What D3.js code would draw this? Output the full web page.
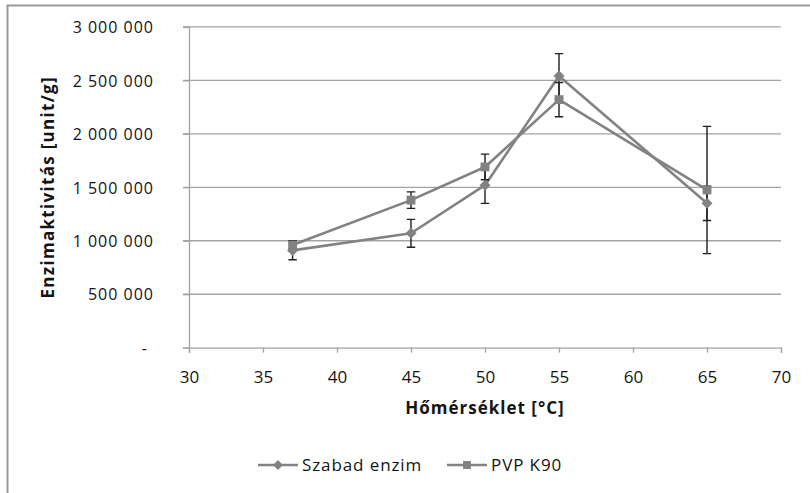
<!DOCTYPE html>
<html>
<head>
<meta charset="utf-8">
<script src="https://cdn.jsdelivr.net/npm/d3@7"></script>
<style>
  body { margin: 0; background: #fff; }
  svg { display: block; }
  text { font-family: "Open Sans", sans-serif; fill: #141414; }
</style>
</head>
<body>
<svg id="chart" width="810" height="493"></svg>
<script>
// Enzyme activity vs. temperature
const temperatures = [37, 45, 50, 55, 65];
const szabadEnzim = [910000, 1070000, 1520000, 2540000, 1350000];
const szabadEnzimErr = [87000, 130000, 170000, 210000, 160000];
const pvpK90 = [960000, 1380000, 1690000, 2320000, 1475000];
const pvpK90Err = [40000, 77000, 120000, 160000, 595000];
const seriesNames = ["Szabad enzim", "PVP K90"];

const xTicks = [30, 35, 40, 45, 50, 55, 60, 65, 70];
const yTicks = [0, 500000, 1000000, 1500000, 2000000, 2500000, 3000000];
const yTickLabels = ["-", "500 000", "1 000 000", "1 500 000", "2 000 000", "2 500 000", "3 000 000"];
const xTitle = "Hőmérséklet [°C]";
const yTitle = "Enzimaktivitás [unit/g]";

const svg = d3.select("#chart");
const W = 810, H = 493;
const plot = { left: 189, right: 781, top: 26.9, bottom: 347.7 };

const x = d3.scaleLinear().domain([30, 70]).range([plot.left, plot.right]);
const y = d3.scaleLinear().domain([0, 3000000]).range([plot.bottom, plot.top]);

const gridColor = "#a3a3a3";
const seriesColor = "#828282";

// outer frame (left and top edges)
svg.append("path")
  .attr("d", `M7.5,${H} L7.5,5.5 L${W},5.5`)
  .attr("fill", "none")
  .attr("stroke", "#9a9a9a")
  .attr("stroke-width", 2);

// horizontal gridlines with tick stubs on the left
svg.append("g")
  .selectAll("line")
  .data(yTicks.slice(1))
  .join("line")
  .attr("x1", plot.left - 6)
  .attr("x2", plot.right)
  .attr("y1", d => y(d))
  .attr("y2", d => y(d))
  .attr("stroke", gridColor)
  .attr("stroke-width", 1.3);

// y axis
const yAxis = d3.axisLeft(y)
  .tickValues(yTicks)
  .tickFormat((d, i) => yTickLabels[i])
  .tickSize(6)
  .tickPadding(0);
const gy = svg.append("g").attr("transform", `translate(${plot.left},0)`).call(yAxis);
gy.attr("font-family", null).attr("font-size", null);
gy.select(".domain").attr("stroke", gridColor).attr("stroke-width", 1.3);
gy.selectAll(".tick line").attr("stroke", gridColor).attr("stroke-width", 1.3);
gy.selectAll(".tick text")
  .attr("x", (d, i) => (i === 0 ? -41 : -35))
  .attr("dy", "0.36em")
  .style("font-size", "16px")
  .style("letter-spacing", "1px")
  .style("fill", "#141414");

// x axis
const xAxis = d3.axisBottom(x)
  .tickValues(xTicks)
  .tickFormat(d3.format("d"))
  .tickSize(5)
  .tickPadding(8);
const gx = svg.append("g").attr("transform", `translate(0,${plot.bottom})`).call(xAxis);
gx.attr("font-family", null).attr("font-size", null);
gx.select(".domain").attr("stroke", gridColor).attr("stroke-width", 1.3);
gx.selectAll(".tick line").attr("stroke", gridColor).attr("stroke-width", 1.3);
gx.selectAll(".tick text")
  .attr("y", 35)
  .attr("dy", 0)
  .style("font-size", "17px")
  .style("fill", "#141414");

// axis titles
svg.append("text")
  .attr("x", (plot.left + plot.right) / 2)
  .attr("y", 414)
  .attr("text-anchor", "middle")
  .style("font-size", "17px")
  .style("font-weight", "bold")
  .style("letter-spacing", "1px")
  .text(xTitle);

svg.append("text")
  .attr("transform", `translate(54,${(plot.top + plot.bottom) / 2}) rotate(-90)`)
  .attr("text-anchor", "middle")
  .style("font-size", "17px")
  .style("font-weight", "bold")
  .style("letter-spacing", "1.3px")
  .text(yTitle);

// series data
const series = [
  { name: seriesNames[0], values: szabadEnzim, errs: szabadEnzimErr, marker: d3.symbolDiamond2, size: 78 },
  { name: seriesNames[1], values: pvpK90, errs: pvpK90Err, marker: d3.symbolSquare2, size: 100 }
].map(s => ({ ...s, points: temperatures.map((t, i) => ({ t, v: s.values[i], e: s.errs[i] })) }));

const line = d3.line().x(d => x(d.t)).y(d => y(d.v));

svg.append("g")
  .selectAll("path")
  .data(series)
  .join("path")
  .attr("d", d => line(d.points))
  .attr("fill", "none")
  .attr("stroke", seriesColor)
  .attr("stroke-width", 2.6)
  .attr("stroke-linejoin", "round");

// error bars
const capHalf = 4.2;
const eg = svg.append("g").attr("stroke", "#1f1f1f").attr("stroke-width", 1.4).attr("fill", "none");
series.forEach(s => {
  s.points.forEach(p => {
    const cx = x(p.t), y0 = y(p.v - p.e), y1 = y(p.v + p.e);
    eg.append("path")
      .attr("d", `M${cx},${y0}V${y1}M${cx - capHalf},${y0}H${cx + capHalf}M${cx - capHalf},${y1}H${cx + capHalf}`);
  });
});

// markers
series.forEach(s => {
  svg.append("g")
    .selectAll("path")
    .data(s.points)
    .join("path")
    .attr("transform", p => `translate(${x(p.t)},${y(p.v)})`)
    .attr("d", d3.symbol().type(s.marker).size(s.size))
    .attr("fill", seriesColor);
});

// legend
const legendY = 465;
const legendItems = [{ s: series[0], x: 258 }, { s: series[1], x: 447 }];
legendItems.forEach(li => {
  const g = svg.append("g").attr("transform", `translate(${li.x},${legendY})`);
  g.append("line").attr("x1", 0).attr("x2", 40).attr("y1", 0).attr("y2", 0)
    .attr("stroke", seriesColor).attr("stroke-width", 2.6);
  g.append("path").attr("transform", "translate(20,0)")
    .attr("d", d3.symbol().type(li.s.marker).size(li.s.size * 0.8))
    .attr("fill", seriesColor);
  g.append("text").attr("x", 44).attr("y", 6)
    .style("font-size", "17px")
    .style("letter-spacing", "0.9px")
    .text(li.s.name);
});
</script>
</body>
</html>
